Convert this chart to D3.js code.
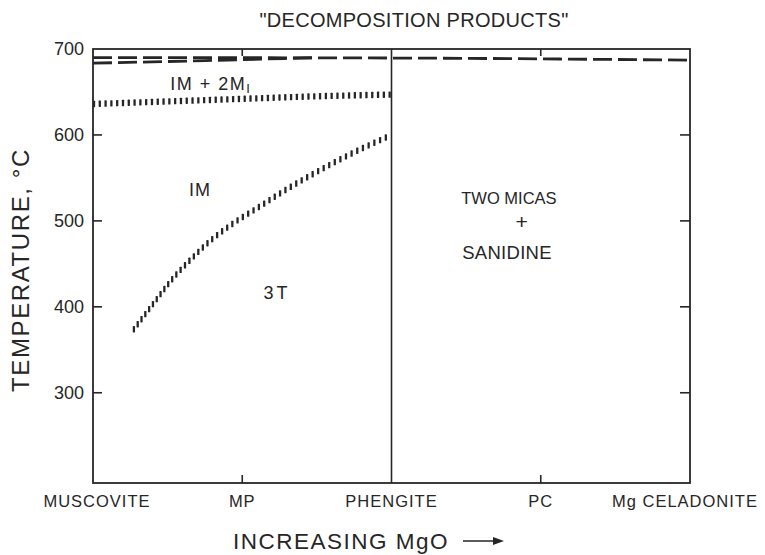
<!DOCTYPE html>
<html>
<head>
<meta charset="utf-8">
<script src="https://cdn.jsdelivr.net/npm/d3@7"></script>
<style>
  body { margin: 0; background: #fff; }
  text { font-family: "Liberation Sans", Arial, sans-serif; fill: #262626; }
</style>
</head>
<body>
<svg id="chart" width="765" height="555"></svg>
<script>
// Composition axis (increasing MgO) and temperature axis
const compositions = ["MUSCOVITE", "MP", "PHENGITE", "PC", "Mg CELADONITE"];
const tempTicks = [300, 400, 500, 600, 700];

// 1M / 1M + 2M1 boundary (dotted)
const upperBoundX = [0, 0.5, 1, 1.5, 2];
const upperBoundT = [636, 639, 642, 645, 647];

// 3T / 1M boundary (dotted)
const lowerBoundX = [0.27, 0.41, 0.53, 0.66, 0.78, 0.93, 1.11, 1.30, 1.52, 1.74, 2.0];
const lowerBoundT = [373, 405, 432, 456, 476, 496, 516, 537, 559, 579, 600];

// decomposition limits (dashed)
const decompUpperX = [0, 2, 4];
const decompUpperT = [690, 689.5, 687];
const decompLowerX = [0, 0.75, 1.5];
const decompLowerT = [683.5, 686.5, 690];

const svg = d3.select("#chart");
const ink = "#262626";

const x = d3.scaleLinear().domain([0, 4]).range([93, 690]);
const y = d3.scaleLinear().domain([195, 700]).range([483, 49]);

const pts = (xs, ts) => xs.map((v, i) => [v, ts[i]]);
const line = d3.line().x(d => x(d[0])).y(d => y(d[1])).curve(d3.curveMonotoneX);

// title
svg.append("text")
  .attr("x", 414).attr("y", 27)
  .attr("text-anchor", "middle")
  .attr("font-size", 20)
  .attr("letter-spacing", 0.3)
  .text("\"DECOMPOSITION PRODUCTS\"");

// frame
svg.append("rect")
  .attr("x", x(0)).attr("y", y(700))
  .attr("width", x(4) - x(0)).attr("height", y(195) - y(700))
  .attr("fill", "none").attr("stroke", ink).attr("stroke-width", 1.8);

// phengite divider
svg.append("line")
  .attr("x1", x(2)).attr("x2", x(2))
  .attr("y1", y(700)).attr("y2", y(195))
  .attr("stroke", ink).attr("stroke-width", 1.6);

// inward ticks on left and right
const inner = svg.append("g").attr("stroke", ink).attr("stroke-width", 1.6);
tempTicks.filter(t => t < 700).forEach(t => {
  inner.append("line").attr("x1", x(0)).attr("x2", x(0) + 9).attr("y1", y(t)).attr("y2", y(t));
  inner.append("line").attr("x1", x(4)).attr("x2", x(4) - 10).attr("y1", y(t)).attr("y2", y(t));
});
// inward ticks on top and bottom
[1, 3].forEach(c => {
  inner.append("line").attr("x1", x(c)).attr("x2", x(c)).attr("y1", y(700)).attr("y2", y(700) + 7);
  inner.append("line").attr("x1", x(c)).attr("x2", x(c)).attr("y1", y(195)).attr("y2", y(195) - 8);
});

// y tick labels
svg.append("g").selectAll("text").data(tempTicks).join("text")
  .attr("x", 84).attr("y", d => y(d)).attr("dy", "0.36em")
  .attr("text-anchor", "end").attr("font-size", 18)
  .text(d => d);

// y axis title
svg.append("text")
  .attr("transform", `translate(29,${270}) rotate(-90)`)
  .attr("text-anchor", "middle").attr("font-size", 24)
  .attr("letter-spacing", 1.6)
  .text("TEMPERATURE, °C");

// x category labels
svg.append("g").selectAll("text").data(compositions).join("text")
  .attr("x", (d, i) => x(i) + (i === 0 ? 4 : i === 4 ? -5 : 0))
  .attr("y", 507)
  .attr("text-anchor", "middle").attr("font-size", 16.5)
  .attr("letter-spacing", 1)
  .text(d => d);

// x axis title with arrow
svg.append("text")
  .attr("x", 341).attr("y", 549)
  .attr("text-anchor", "middle").attr("font-size", 22.5)
  .attr("letter-spacing", 1.5)
  .text("INCREASING MgO");
svg.append("line")
  .attr("x1", 463).attr("x2", 496).attr("y1", 541).attr("y2", 541)
  .attr("stroke", ink).attr("stroke-width", 1.6);
svg.append("path")
  .attr("d", "M504,541 L493,537 L493,545 Z")
  .attr("fill", ink);

// dashed decomposition limits
[[decompUpperX, decompUpperT], [decompLowerX, decompLowerT]].forEach(([xs, ts]) => {
  svg.append("path")
    .attr("d", line(pts(xs, ts)))
    .attr("fill", "none").attr("stroke", ink)
    .attr("stroke-width", 2.8).attr("stroke-dasharray", "19,6");
});

// dotted boundaries drawn as small vertical marks along the curve
function markedCurve(xs, ts, step) {
  const path = svg.append("path")
    .attr("d", line(pts(xs, ts)))
    .attr("fill", "none").attr("stroke", "none");
  const node = path.node();
  const len = node.getTotalLength();
  const g = svg.append("g").attr("fill", ink);
  for (let s = 1; s <= len; s += step) {
    const p = node.getPointAtLength(s);
    g.append("rect")
      .attr("x", p.x - 1.15).attr("y", p.y - 3.2)
      .attr("width", 2.3).attr("height", 6.4).attr("rx", 0.6);
  }
}
markedCurve(upperBoundX, upperBoundT, 5.8);
markedCurve(lowerBoundX, lowerBoundT, 6.3);

// field labels
const label = (cx, t, str, size) => svg.append("text")
  .attr("x", x(cx)).attr("y", y(t)).attr("dy", "0.36em")
  .attr("text-anchor", "middle")
  .attr("font-size", size)
  .text(str);

const oneM2M = svg.append("text")
  .attr("x", x(0.79)).attr("y", y(660)).attr("dy", "0.36em")
  .attr("text-anchor", "middle").attr("font-size", 18).attr("letter-spacing", 1.5);
oneM2M.append("tspan").text("IM + 2M");
oneM2M.append("tspan").attr("font-size", 13).attr("dy", 3).text("I");

label(0.717, 536, "IM", 18).attr("letter-spacing", 1);
label(1.233, 417, "3T", 18).attr("letter-spacing", 3);
label(2.787, 527, "TWO MICAS", 16.5);
label(2.872, 499, "+", 21);
label(2.774, 463, "SANIDINE", 18.5).attr("letter-spacing", 0.3);
</script>
</body>
</html>
